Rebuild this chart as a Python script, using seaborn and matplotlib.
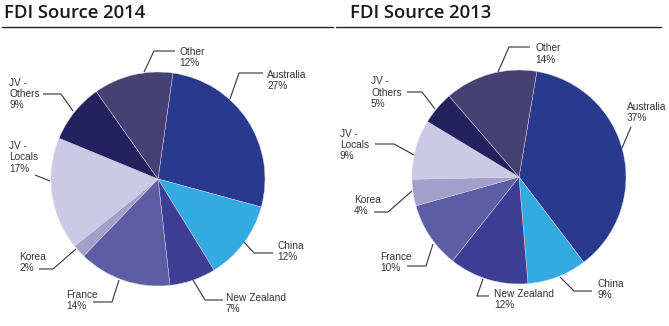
import matplotlib
matplotlib.use("Agg")
import matplotlib.pyplot as plt
import seaborn as sns

# ---- data ----
categories = ["Australia", "China", "New Zealand", "France", "Korea",
              "JV -\nLocals", "JV -\nOthers", "Other"]
share_2014 = [27, 12, 7, 14, 2, 17, 9, 12]
share_2013 = [37, 9, 12, 10, 4, 9, 5, 14]
titles = ["FDI Source 2014", "FDI Source 2013"]

# ---- style ----
sns.set_theme(style="white")
plt.rcParams["font.family"] = ["Liberation Sans", "DejaVu Sans"]
palette = sns.color_palette(["#293a8e", "#33abe0", "#3d3f96", "#5c5da3",
                             "#a39fca", "#cbc9e5", "#24215f", "#464172"])

W, H = 669, 326
fig = plt.figure(figsize=(W / 100, H / 100), dpi=100)
ax = fig.add_axes([0, 0, 1, 1])


def Y(y):
    return H - y


# layout (image pixel coords)
pie_layout = [dict(center=(158, 179), radius=107, start=82),
              dict(center=(519, 177), radius=107, start=80.4)]
title_x = [4, 350]
rule_x = [(2, 333), (336, 661)]
text_pos = [
    [(267, 80.5), (277, 251.5), (226, 303.5), (66, 300.5), (19, 262.5),
     (9, 157.5), (9, 94), (179, 57.5)],
    [(627, 112.5), (597, 289.5), (494, 299.5), (380, 262.5), (354, 205.5),
     (340, 145), (371, 92.5), (535, 54)],
]
leaders = [
    [[(230, 99), (239, 73), (263, 73)],
     [(244, 242), (254, 253), (273, 253)],
     [(193, 280), (205, 300), (223, 300)],
     [(119, 280), (112, 302), (93, 302)],
     [(76, 249), (53, 269), (39, 269)],
     [(50, 181), (35, 175)],
     [(73, 111), (61, 94), (43, 94)],
     [(144, 72), (154, 51), (175, 51)]],
    [[(622, 148), (631, 127)],
     [(560, 277), (574, 291), (592, 291)],
     [(483, 279), (477, 296), (489, 296)],
     [(433, 244), (426, 266), (407, 266)],
     [(412, 191), (388, 212), (374, 212)],
     [(414, 155), (394, 144), (375, 144)],
     [(435, 109), (422, 92), (407, 92)],
     [(498, 72), (509, 47), (530, 47)]],
]

for i, values in enumerate([share_2014, share_2013]):
    lay = pie_layout[i]
    cx, cy = lay["center"]
    ax.pie(values, colors=palette, startangle=lay["start"], counterclock=False,
           center=(cx, Y(cy)), radius=lay["radius"],
           wedgeprops=dict(edgecolor="#d8d8ec", linewidth=0.3))
    # labels
    for name, v, (tx, ty), pts in zip(categories, values, text_pos[i], leaders[i]):
        ax.text(tx, Y(ty), f"{name}\n{v}%", ha="left", va="center",
                fontsize=7.3, color="#333333", linespacing=1.14)
        ax.plot([p[0] for p in pts], [Y(p[1]) for p in pts],
                color="#333333", lw=0.8, solid_capstyle="butt")
    # title and rule
    ax.text(title_x[i], Y(18), titles[i], ha="left", va="baseline",
            fontsize=13.3, fontweight="semibold", color="#1a1a1a",
            family=["Open Sans", "DejaVu Sans"])
    x0, x1 = rule_x[i]
    ax.plot([x0, x1], [Y(27), Y(27)], color="#222222", lw=1.0)

ax.set_xlim(0, W)
ax.set_ylim(0, H)
ax.set_aspect("auto")
ax.axis("off")

fig.savefig("out.png", dpi=100, facecolor="white")
